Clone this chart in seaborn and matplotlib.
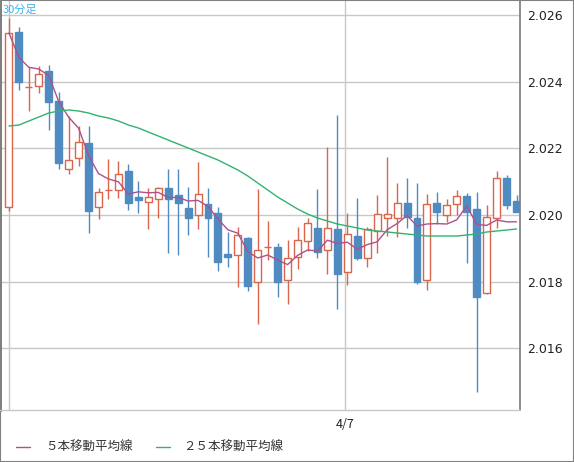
import matplotlib
matplotlib.use("Agg")
import matplotlib.pyplot as plt
import seaborn as sns
import numpy as np
import pandas as pd

opens  = [2.02024,2.02549,2.02384,2.02387,2.02432,2.02342,2.02138,2.02171,2.02216,2.02024,2.02075,2.02075,2.02132,2.02054,2.02039,2.02048,2.02081,2.0206,2.02021,2.0200,2.02033,2.02006,2.01883,2.0188,2.01931,2.01799,2.01904,2.01904,2.01805,2.01874,2.01922,2.01961,2.01895,2.01958,2.01829,2.01937,2.01871,2.01952,2.01991,2.01991,2.02036,2.01991,2.01805,2.02036,2.0200,2.02033,2.02057,2.02018,2.01766,2.01991,2.02111,2.02042]
closes = [2.02546,2.02399,2.02384,2.02423,2.02339,2.02156,2.02165,2.02219,2.02012,2.02069,2.02075,2.02123,2.02036,2.02045,2.02054,2.02081,2.02048,2.02036,2.01991,2.02063,2.01991,2.01859,2.01874,2.0194,2.01787,2.01895,2.01904,2.01799,2.01871,2.01925,2.01976,2.01889,2.01961,2.01823,2.01943,2.01871,2.01958,2.02003,2.02003,2.02036,2.01994,2.01799,2.02033,2.02009,2.0203,2.02057,2.02009,2.01754,2.01994,2.02111,2.0203,2.02009]
highs  = [2.0259,2.02564,2.02444,2.02447,2.0245,2.02369,2.02297,2.02267,2.02267,2.02081,2.02168,2.02162,2.02153,2.02102,2.02081,2.02084,2.02138,2.02138,2.02084,2.02159,2.02081,2.02024,2.01949,2.01964,2.01934,2.02078,2.01982,2.01916,2.01925,2.01964,2.01991,2.02078,2.02204,2.023,2.02006,2.02051,2.01964,2.0206,2.02174,2.02096,2.02111,2.02096,2.02063,2.02069,2.02048,2.02075,2.02066,2.02069,2.0203,2.02132,2.0212,2.0206]
lows   = [2.02012,2.02375,2.02312,2.02366,2.02255,2.02138,2.02123,2.02147,2.01946,2.01988,2.02048,2.02051,2.02015,2.02006,2.01958,2.01991,2.01886,2.0188,2.0194,2.01958,2.01874,2.01832,2.01844,2.01784,2.01772,2.01673,2.01865,2.01754,2.01733,2.01838,2.01892,2.01871,2.01823,2.01718,2.0179,2.01865,2.01844,2.01886,2.01937,2.01934,2.01961,2.01793,2.01775,2.01973,2.01979,2.0200,2.01856,2.01469,2.01763,2.01961,2.02018,2.02009]
ma25   = [2.02267,2.0227,2.02282,2.02294,2.02306,2.02312,2.02315,2.02312,2.02306,2.02297,2.02291,2.02282,2.0227,2.02261,2.02249,2.02237,2.02225,2.02213,2.02201,2.02189,2.02177,2.02165,2.0215,2.02135,2.02117,2.02096,2.02075,2.02054,2.02036,2.02018,2.02003,2.01991,2.01982,2.01973,2.01967,2.01961,2.01955,2.01952,2.01949,2.01946,2.01943,2.0194,2.01937,2.01937,2.01937,2.01937,2.0194,2.01943,2.01949,2.01952,2.01955,2.01958]
yticks = [2.016,2.018,2.020,2.022,2.024,2.026]
date_label = "4/7"
date_pos = 33.8

df = pd.DataFrame(dict(o=opens, c=closes, h=highs, l=lows, ma25=ma25))
df["i"] = np.arange(len(df))
df["ma5"] = df["c"].rolling(5, min_periods=1).mean()

sns.set_theme(style="white")
plt.rcParams['font.family'] = ['Noto Sans CJK JP', 'DejaVu Sans']
RED, BLUE = "#d9654a", "#4f8bc0"

fig = plt.figure(figsize=(5.74, 4.62), dpi=100)
ax = fig.add_axes([0, 52/462, 520/574, 410/462])
ax.set_xlim(-0.9, 51.35)
ax.set_ylim(2.01415, 2.02645)
for y in yticks:
    ax.axhline(y, color="#c8c8c8", lw=1, zorder=0)
for x in [0, date_pos]:
    ax.axvline(x, color="#c8c8c8", lw=1, zorder=0)

w = 0.7
for _, r in df.iterrows():
    up = r.c >= r.o
    col = RED if up else BLUE
    ax.vlines(r.i, r.l, r.h, color=col, lw=1, zorder=2)
    lo, hi = min(r.o, r.c), max(r.o, r.c)
    hgt = max(hi - lo, 0.000015)
    if up:
        ax.bar(r.i, hgt, w, bottom=lo, facecolor="white", edgecolor=col, lw=1, zorder=3)
    else:
        ax.bar(r.i, hgt, w, bottom=lo, facecolor=col, edgecolor=col, lw=1, zorder=3)

sns.lineplot(data=df, x="i", y="ma5", ax=ax, color="#b0508a", lw=1, zorder=4)
sns.lineplot(data=df, x="i", y="ma25", ax=ax, color="#2fb36f", lw=1, zorder=4)

ax.set_xlabel(""); ax.set_ylabel("")
ax.set_xticks([])
ax.yaxis.tick_right()
ax.set_yticks(yticks)
ax.set_yticklabels([f"{v:.3f}" for v in yticks], fontsize=9, color="#222222", family="DejaVu Sans")
ax.tick_params(axis="y", length=0, pad=5)
for s in ["top", "bottom"]:
    ax.spines[s].set_visible(False)
ax.spines["left"].set_color("#707070"); ax.spines["left"].set_linewidth(2)
ax.spines["right"].set_color("#808080")
ax.text(3/520, 1 - 10/410, "30分足", transform=ax.transAxes, color="#3cb4e8", fontsize=8, va="center")

fig.text(345/574, 1 - 425/462, date_label, ha="center", va="center", fontsize=9, color="#222222")
fig.add_artist(plt.Line2D([16/574, 30/574], [1-447/462]*2, color="#b0508a", lw=1))
fig.text(45/574, 1-447/462, "５本移動平均線", va="center", fontsize=9, color="#333333")
fig.add_artist(plt.Line2D([156/574, 170/574], [1-447/462]*2, color="#2fb36f", lw=1))
fig.text(183/574, 1-447/462, "２５本移動平均線", va="center", fontsize=9, color="#333333")
fig.add_artist(plt.Rectangle((0, 0), 1, 1, transform=fig.transFigure, fill=False, edgecolor="#808080", lw=1.5))
fig.add_artist(plt.Line2D([0, 520/574], [52/462]*2, color="#c8c8c8", lw=1))
fig.savefig("out.png", dpi=100)
